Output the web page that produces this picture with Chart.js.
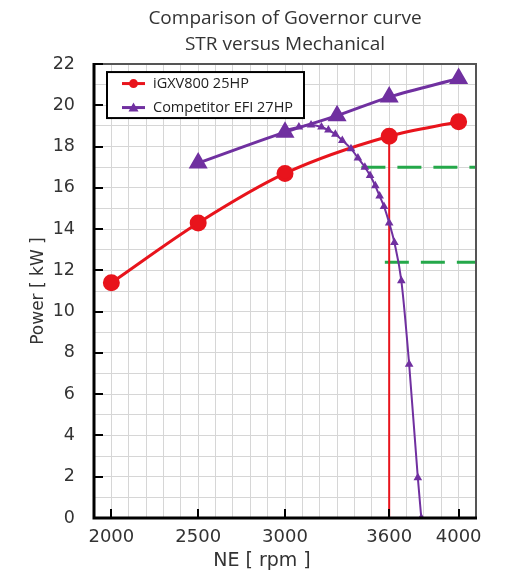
<!DOCTYPE html>
<html>
<head>
<meta charset="utf-8">
<script src="https://cdn.jsdelivr.net/npm/chart.js@4.4.1/dist/chart.umd.min.js"></script>
<style>
  html, body { margin: 0; padding: 0; background: #fff; }
  #wrap { width: 510px; height: 573px; }
</style>
</head>
<body>
<div id="wrap"><canvas id="chart_cv"></canvas></div>
<script>
// データ
const rpmIgxv = [2000, 2500, 3000, 3600, 4000];
const powerIgxv = [11.4, 14.3, 16.7, 18.5, 19.2];

const rpmCompetitor = [2500, 3000, 3300, 3600, 4000];
const powerCompetitor = [17.2, 18.7, 19.5, 20.4, 21.3];

// competitor governor droop curve (small triangles)
const rpmGovernor = [3000, 3080, 3150, 3210, 3250, 3290, 3330, 3380, 3420, 3460, 3490, 3520, 3545, 3570, 3600, 3630, 3670, 3715, 3765, 3785];
const powerGovernor = [18.8, 18.95, 19.05, 18.95, 18.8, 18.6, 18.3, 17.9, 17.45, 17.0, 16.6, 16.1, 15.6, 15.1, 14.3, 13.35, 11.5, 7.45, 1.95, 0];

// iGXV cut-off at 3600 rpm
const rpmCutoff = [3600, 3600];
const powerCutoff = [18.5, 0];

// green dashed reference levels
const rpmLevelHigh = [3440, 4100];
const powerLevelHigh = [17.0, 17.0];
const rpmLevelLow = [3575, 4100];
const powerLevelLow = [12.4, 12.4];

const xLabels = [2000, 2500, 3000, 3600, 4000];
const yLabels = [0, 2, 4, 6, 8, 10, 12, 14, 16, 18, 20, 22];

const RED = '#e8141c';
const PURPLE = '#7030a0';
const GREEN = '#25a84a';

function pts(xs, ys) {
  return xs.map((x, i) => ({ x: x, y: ys[i] }));
}

// 枠線・目盛り（内向き）
const framePlugin = {
  id: 'frame',
  afterDatasetsDraw(chart) {
    const { ctx, chartArea: a, scales } = chart;
    ctx.save();
    ctx.strokeStyle = '#555';
    ctx.lineWidth = 2;
    ctx.beginPath();
    ctx.moveTo(a.left, a.top); ctx.lineTo(a.right, a.top); ctx.lineTo(a.right, a.bottom);
    ctx.stroke();
    ctx.strokeStyle = '#000';
    ctx.lineWidth = 3;
    ctx.beginPath();
    ctx.moveTo(a.left, a.top - 1); ctx.lineTo(a.left, a.bottom); ctx.lineTo(a.right + 1, a.bottom);
    ctx.stroke();
    ctx.lineWidth = 2;
    ctx.beginPath();
    xLabels.forEach(v => {
      const px = Math.round(scales.x.getPixelForValue(v));
      ctx.moveTo(px, a.bottom); ctx.lineTo(px, a.bottom - 9);
    });
    yLabels.forEach(v => {
      const py = Math.round(scales.y.getPixelForValue(v));
      ctx.moveTo(a.left, py); ctx.lineTo(a.left + 9, py);
    });
    ctx.stroke();
    ctx.restore();
  }
};

// 凡例（グラフ内・枠付き）と横軸タイトル
const legendBoxPlugin = {
  id: 'legendBox',
  afterDraw(chart) {
    const ctx = chart.ctx;
    const a = chart.chartArea;
    const x0 = a.left + 13, y0 = a.top + 8;
    const rows = chart.data.datasets.slice(0, 2);
    ctx.save();
    ctx.fillStyle = '#fff';
    ctx.fillRect(x0, y0, 197, 46);
    ctx.strokeStyle = '#000';
    ctx.lineWidth = 2;
    ctx.strokeRect(x0, y0, 197, 46);
    rows.forEach((ds, i) => {
      const cy = y0 + 11.5 + i * 24;
      const lx = x0 + 15;
      ctx.strokeStyle = ds.borderColor;
      ctx.fillStyle = ds.borderColor;
      ctx.lineWidth = 3;
      ctx.beginPath(); ctx.moveTo(lx, cy); ctx.lineTo(lx + 23, cy); ctx.stroke();
      ctx.beginPath();
      if (ds.pointStyle === 'circle') {
        ctx.arc(lx + 11.5, cy, 4.5, 0, Math.PI * 2);
      } else {
        ctx.moveTo(lx + 11.5, cy - 5); ctx.lineTo(lx + 16.5, cy + 4); ctx.lineTo(lx + 6.5, cy + 4); ctx.closePath();
      }
      ctx.fill();
      ctx.fillStyle = '#222';
      ctx.font = '14.5px "Open Sans"';
      ctx.textBaseline = 'middle';
      ctx.textAlign = 'left';
      ctx.fillText(ds.label, x0 + 46, cy);
    });
    // NE [ rpm ] — 元図では少し左寄り
    ctx.fillStyle = '#333';
    ctx.font = '19px "DejaVu Sans"';
    ctx.textAlign = 'center';
    ctx.textBaseline = 'middle';
    ctx.fillText('NE [ rpm ]', 262, 561);
    ctx.restore();
  }
};

const ctx = document.getElementById('chart_cv');
const chart_cv = new Chart(ctx, {
  type: 'line',
  data: {
    datasets: [
      {
        label: 'iGXV800 25HP',
        data: pts(rpmIgxv, powerIgxv),
        borderColor: RED,
        backgroundColor: RED,
        borderWidth: 3,
        pointRadius: 7,
        pointStyle: 'circle',
        cubicInterpolationMode: 'monotone',
        order: 2
      },
      {
        label: 'Competitor EFI 27HP',
        data: pts(rpmCompetitor, powerCompetitor),
        borderColor: PURPLE,
        backgroundColor: PURPLE,
        borderWidth: 3,
        pointRadius: 8,
        pointStyle: 'triangle',
        cubicInterpolationMode: 'monotone',
        order: 1
      },
      {
        label: 'governor',
        data: pts(rpmGovernor, powerGovernor),
        borderColor: PURPLE,
        backgroundColor: PURPLE,
        borderWidth: 2,
        pointRadius: 3,
        pointStyle: 'triangle',
        cubicInterpolationMode: 'monotone',
        order: 0
      },
      {
        label: 'cutoff',
        data: pts(rpmCutoff, powerCutoff),
        borderColor: RED,
        borderWidth: 2,
        pointRadius: 0,
        order: 3
      },
      {
        label: 'level high',
        data: pts(rpmLevelHigh, powerLevelHigh),
        borderColor: GREEN,
        borderWidth: 3,
        borderDash: [24, 12],
        pointRadius: 0,
        order: 4
      },
      {
        label: 'level low',
        data: pts(rpmLevelLow, powerLevelLow),
        borderColor: GREEN,
        borderWidth: 3,
        borderDash: [24, 12],
        pointRadius: 0,
        order: 4
      }
    ]
  },
  options: {
    responsive: true,
    maintainAspectRatio: false,
    animation: false,
    layout: { padding: { left: 24, right: 34, top: 0, bottom: 2 } },
    plugins: {
      title: {
        display: true,
        text: ['Comparison of Governor curve', 'STR versus Mechanical'],
        color: '#333',
        font: { family: 'Open Sans', size: 19, weight: 'normal', lineHeight: 1.37 },
        padding: { top: 6, bottom: 6 },
        fullSize: false
      },
      legend: { display: false },
      tooltip: { enabled: false }
    },
    scales: {
      x: {
        type: 'linear',
        min: 1900,
        max: 4100,
        border: { display: false },
        grid: { color: '#d6d6d6', lineWidth: 1, drawTicks: false },
        afterFit: s => { s.height = 53; },
        ticks: {
          stepSize: 100,
          autoSkip: false,
          maxRotation: 0,
          padding: 9,
          color: '#333',
          font: { family: 'DejaVu Sans', size: 18 },
          callback: v => xLabels.includes(v) ? String(v) : ''
        },
        title: { display: false }
      },
      y: {
        min: 0,
        max: 22,
        border: { display: false },
        grid: { color: '#d6d6d6', lineWidth: 1, drawTicks: false },
        afterFit: s => { s.width = 70; },
        ticks: {
          stepSize: 1,
          autoSkip: false,
          padding: 19,
          color: '#333',
          font: { family: 'DejaVu Sans', size: 17.5 },
          callback: v => yLabels.includes(v) ? String(v) : ''
        },
        title: {
          display: true,
          text: 'Power [ kW ]',
          color: '#333',
          font: { family: 'DejaVu Sans', size: 17 },
          padding: { top: 4, bottom: 4 }
        }
      }
    }
  },
  plugins: [framePlugin, legendBoxPlugin]
});
</script>
</body>
</html>
